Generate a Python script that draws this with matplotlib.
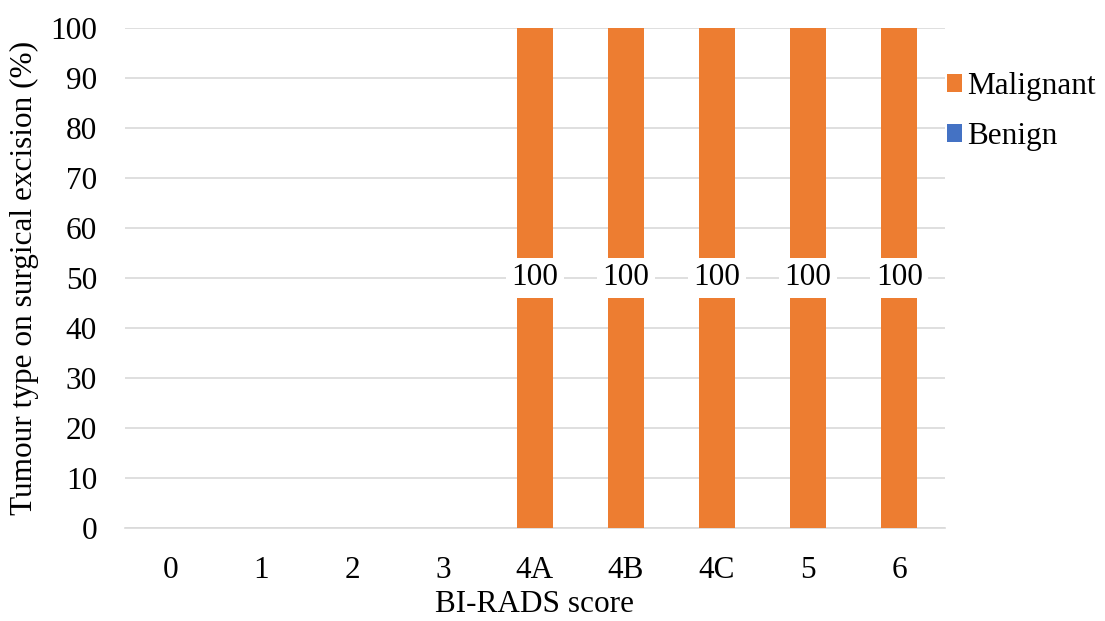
import matplotlib
matplotlib.use("Agg")
import matplotlib.pyplot as plt
import numpy as np

categories = ["0", "1", "2", "3", "4A", "4B", "4C", "5", "6"]
benign = [0, 0, 0, 0, 0, 0, 0, 0, 0]
malignant = [0, 0, 0, 0, 100, 100, 100, 100, 100]

plt.rcParams['font.family'] = ['Liberation Serif', 'DejaVu Serif']
FS = 22.5

fig = plt.figure(figsize=(11.05, 6.21), dpi=100)
ax = fig.add_axes([0.113, 0.150, 0.742, 0.805])

x = np.arange(len(categories))
w = 0.4
orange = "#ED7D31"
blue = "#4472C4"
b1 = ax.bar(x, benign, w, color=blue, label="Benign", zorder=3)
b2 = ax.bar(x, malignant, w, bottom=benign, color=orange, label="Malignant", zorder=3)

for i, v in enumerate(malignant):
    if v > 0:
        ax.text(x[i], benign[i] + v / 2, f"{v}", ha="center", va="center",
                fontsize=FS, zorder=4,
                bbox=dict(facecolor="white", edgecolor="none", pad=4))

ax.set_xlim(-0.5, len(categories) - 0.5)
ax.set_ylim(0, 100)
ax.set_yticks(np.arange(0, 101, 10))
ax.set_xticks(x)
ax.set_xticklabels(categories)
ax.tick_params(axis="both", labelsize=FS, length=0)
ax.tick_params(axis="x", pad=20)
ax.tick_params(axis="y", pad=20)
ax.yaxis.grid(True, color="#D9D9D9", linewidth=1.2, zorder=0)
for s in ["top", "right", "left"]:
    ax.spines[s].set_visible(False)
ax.spines["bottom"].set_color("#D9D9D9")
ax.spines["bottom"].set_linewidth(1.2)

ax.set_xlabel("BI-RADS score", fontsize=FS, labelpad=4)
ax.set_ylabel("Tumour type on surgical excision (%)", fontsize=FS, labelpad=8)

handles = [b2, b1]
ax.legend(handles, ["Malignant", "Benign"], loc="upper left", bbox_to_anchor=(0.987, 0.936),
          frameon=False, fontsize=FS, handlelength=0.5, handleheight=0.5,
          handletextpad=0.15, labelspacing=0.65, borderaxespad=0.0)

fig.savefig("out.png", dpi=100)
